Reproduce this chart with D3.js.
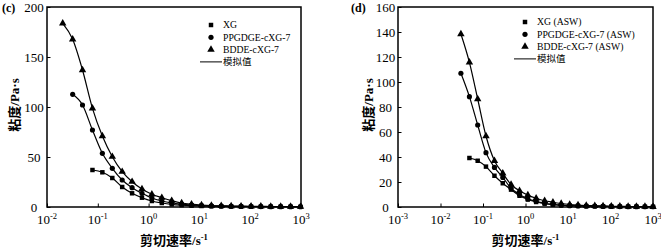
<!DOCTYPE html>
<html>
<head>
<meta charset="utf-8">
<script src="https://cdn.jsdelivr.net/npm/d3@7"></script>
<style>
    body { margin: 0; background: #fff; }
    svg text { font-family: "Liberation Serif", "Times New Roman", "Noto Sans CJK SC", serif; fill: #000; }
</style>
</head>
<body>
<div id="chart"></div>
<script>
// ---- panel (c): shear rate (1/s) and viscosity (Pa·s), null = no point
const rateC = [0.0204, 0.032, 0.050, 0.0785, 0.123, 0.193, 0.302, 0.473, 0.741, 1.16, 1.82, 2.85, 4.47,
               7.00, 11.0, 17.2, 26.9, 42.2, 66.1, 104, 162, 254, 398, 624, 977];
const xgC    = [null, null, null, 37, 34.7, 29, 20, 13.7, 9.3, 6, 4, 2.6, 1.8, 1.3, 1, 0.8, 0.6, 0.5, 0.4, 0.35, 0.3, 0.3, 0.25, 0.2, 0.2];
const ppgC   = [null, 112.7, 102, 77, 53.7, 38.7, 27, 19.3, 13.7, 9, 6, 4, 2.8, 2, 1.5, 1.1, 0.9, 0.7, 0.6, 0.5, 0.4, 0.35, 0.3, 0.3, 0.25];
const bddeC  = [183.7, 167.7, 137, 98.7, 71, 50.3, 35.3, 25.3, 18, 12.7, 9.3, 6.3, 4, 2.8, 2, 1.5, 1.2, 1, 0.8, 0.7, 0.6, 0.5, 0.4, 0.4, 0.3];
const legendC = ['XG', 'PPGDGE-cXG-7', 'BDDE-cXG-7'];
const yTicksC = [0, 50, 100, 150, 200];

// ---- panel (d): artificial sea water
const rateD = [0.0302, 0.0479, 0.075, 0.1175, 0.186, 0.292, 0.457, 0.724, 1.135, 1.78, 2.82, 4.42,
               6.92, 10.96, 17.2, 26.9, 42.7, 66.8, 104.7, 166, 260, 407, 646, 1000];
const xgD    = [null, 39.2, 37, 32.3, 25, 19, 13.9, 9, 6, 4, 2.7, 1.9, 1.4, 1.1, 0.9, 0.7, 0.6, 0.5, 0.4, 0.35, 0.3, 0.25, 0.2, 0.2];
const ppgD   = [107, 88.3, 65.6, 43.5, 31.7, 23.7, 15, 10, 6.5, 4.5, 3, 2, 1.5, 1.1, 0.9, 0.7, 0.6, 0.5, 0.4, 0.35, 0.3, 0.25, 0.2, 0.2];
const bddeD  = [138.4, 115.7, 86.4, 56.8, 37, 27, 18, 13, 9.5, 7, 5, 3.8, 2.8, 2, 1.5, 1.2, 1, 0.8, 0.6, 0.5, 0.4, 0.3, 0.3, 0.2];
const legendD = ['XG (ASW)', 'PPGDGE-cXG-7 (ASW)', 'BDDE-cXG-7 (ASW)'];
const yTicksD = [0, 20, 40, 60, 80, 100, 120, 140, 160];

const fitLabel = '模拟值';
const yTitle = '粘度/Pa·s';

const svg = d3.select('#chart').append('svg')
    .attr('width', 661)
    .attr('height', 248);

function drawPanel(p) {
    const g = svg.append('g');

    const x = d3.scaleLog().domain(p.xDomain).range([p.left, p.right]);
    const y = d3.scaleLinear().domain(p.yDomain).range([207, 7]);

    // minor y ticks, halfway between the majors
    const yStep = p.yTicks[1] - p.yTicks[0];
    const yMinor = d3.range(p.yDomain[0] + yStep / 2, p.yDomain[1], yStep);

    // log x ticks
    const lo = Math.log10(p.xDomain[0]), hi = Math.log10(p.xDomain[1]);
    const xMajor = d3.range(lo, hi + 1).map(e => Math.pow(10, e));
    const xMinor = [];
    xMajor.slice(0, -1).forEach(m => { for (let k = 2; k < 10; k++) xMinor.push(m * k); });

    // fitted lines
    const series = [p.xg, p.ppg, p.bdde];
    const line = d3.line()
        .defined(d => d[1] != null)
        .x(d => x(d[0]))
        .y(d => y(d[1]))
        .curve(d3.curveMonotoneX);
    series.forEach(s => {
        g.append('path')
            .datum(p.rate.map((r, i) => [r, s[i]]))
            .attr('d', line)
            .attr('fill', 'none')
            .attr('stroke', '#000')
            .attr('stroke-width', 1.2);
    });

    // markers
    const symbols = [d3.symbolSquare, d3.symbolCircle, d3.symbolTriangle];
    const sizes = [20, 21, 24];
    series.forEach((s, k) => {
        g.append('g').selectAll('path')
            .data(p.rate.map((r, i) => [r, s[i]]).filter(d => d[1] != null))
            .enter().append('path')
            .attr('transform', d => `translate(${x(d[0])},${y(d[1])})`)
            .attr('d', d3.symbol().type(symbols[k]).size(sizes[k]))
            .attr('fill', '#000');
    });

    // x axis (ticks inward)
    const xa = g.append('g').attr('transform', 'translate(0,207)');
    xa.call(d3.axisBottom(x).tickValues(xMinor).tickSizeInner(-2).tickSizeOuter(0).tickFormat(''));
    xa.call(d3.axisBottom(x).tickValues(xMajor).tickSizeInner(-3.5).tickSizeOuter(0).tickFormat(''));
    xa.selectAll('line').attr('stroke-width', 1);
    xMajor.forEach(v => {
        const t = g.append('text')
            .attr('x', x(v))
            .attr('y', 224)
            .attr('text-anchor', 'middle')
            .style('font-size', '13px');
        t.append('tspan').text('10');
        t.append('tspan').attr('dy', -5).style('font-size', '8.5px').text(Math.round(Math.log10(v)));
    });

    // y axis (ticks inward, labels centred)
    const ya = g.append('g').attr('transform', `translate(${p.left},0)`);
    ya.call(d3.axisLeft(y).tickValues(yMinor).tickSizeInner(-2).tickSizeOuter(0).tickFormat(''));
    ya.call(d3.axisLeft(y).tickValues(p.yTicks).tickSizeInner(-3.5).tickSizeOuter(0));
    ya.selectAll('text')
        .attr('text-anchor', 'middle')
        .attr('x', -p.labelGap)
        .attr('dy', '0.34em')
        .style('font-size', '13px')
        .style('font-family', '"Liberation Serif", serif');
    svg.selectAll('.domain').remove();

    // frame
    g.append('rect')
        .attr('x', p.left)
        .attr('y', 7)
        .attr('width', p.right - p.left)
        .attr('height', 200)
        .attr('fill', 'none')
        .attr('stroke', '#000')
        .attr('stroke-width', 1.5);

    // panel tag
    g.append('text')
        .attr('x', p.tagX)
        .attr('y', 12)
        .style('font-size', '12px')
        .style('font-weight', 'bold')
        .text(p.tag);

    // axis titles
    g.append('text')
        .attr('transform', `translate(${p.titleX},105) rotate(-90)`)
        .attr('text-anchor', 'middle')
        .attr('dy', '0.35em')
        .style('font-size', '13px')
        .style('font-weight', 'bold')
        .text(yTitle);

    const xt = g.append('text')
        .attr('x', (p.left + p.right) / 2)
        .attr('y', 245)
        .attr('text-anchor', 'middle')
        .style('font-size', '13px')
        .style('font-weight', 'bold');
    xt.append('tspan').text('剪切速率/s');
    xt.append('tspan').attr('dy', -5).style('font-size', '8.5px').text('-1');

    // legend
    const legend = g.append('g').attr('transform', `translate(${p.legX},${p.legY})`);
    p.legend.forEach((name, k) => {
        legend.append('path')
            .attr('transform', `translate(0,${k * 12.3})`)
            .attr('d', d3.symbol().type(symbols[k]).size(sizes[k]))
            .attr('fill', '#000');
        legend.append('text')
            .attr('x', 12)
            .attr('y', k * 12.3)
            .attr('dy', '0.35em')
            .style('font-size', '9.7px')
            .text(name);
    });
    legend.append('line')
        .attr('x1', -11).attr('x2', 11)
        .attr('y1', 3 * 12.3).attr('y2', 3 * 12.3)
        .attr('stroke', '#000')
        .attr('stroke-width', 1);
    legend.append('text')
        .attr('x', 12)
        .attr('y', 3 * 12.3)
        .attr('dy', '0.35em')
        .style('font-size', '9.5px')
        .style('font-family', '"Noto Sans CJK SC", sans-serif')
        .text(fitLabel);
}

drawPanel({
    tag: '(c)', tagX: 2, titleX: 14,
    left: 47, right: 301, labelGap: 13,
    xDomain: [0.01, 1000], yDomain: [0, 200], yTicks: yTicksC,
    rate: rateC, xg: xgC, ppg: ppgC, bdde: bddeC,
    legend: legendC, legX: 211, legY: 25
});

drawPanel({
    tag: '(d)', tagX: 351, titleX: 368,
    left: 398, right: 653, labelGap: 12.5,
    xDomain: [0.001, 1000], yDomain: [0, 160], yTicks: yTicksD,
    rate: rateD, xg: xgD, ppg: ppgD, bdde: bddeD,
    legend: legendD, legX: 525, legY: 22
});
</script>
</body>
</html>
